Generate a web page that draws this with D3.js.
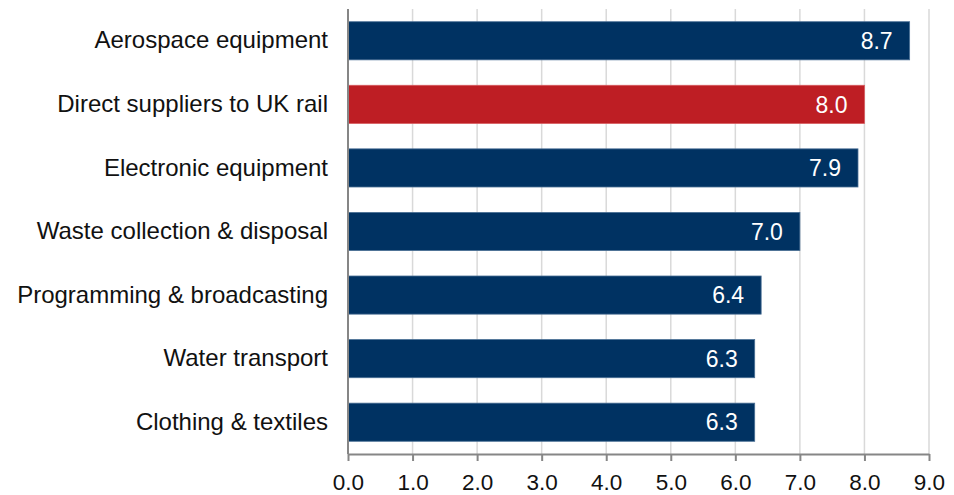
<!DOCTYPE html>
<html>
<head>
<meta charset="utf-8">
<script src="https://cdn.jsdelivr.net/npm/d3@7"></script>
<style>
  body { margin: 0; background: #fff; }
  svg { display: block; font-family: "Liberation Sans", Arial, sans-serif; }
</style>
</head>
<body>
<svg id="chart" width="954" height="495"></svg>
<script>
// Sectors and their values
const categories = [
  "Aerospace equipment",
  "Direct suppliers to UK rail",
  "Electronic equipment",
  "Waste collection & disposal",
  "Programming & broadcasting",
  "Water transport",
  "Clothing & textiles"
];
const values = [8.7, 8.0, 7.9, 7.0, 6.4, 6.3, 6.3];
const highlight = "Direct suppliers to UK rail";
const xTicks = [0, 1, 2, 3, 4, 5, 6, 7, 8, 9];

const svg = d3.select("#chart");
const margin = { top: 9, right: 25, bottom: 41, left: 348 };
const W = 954, H = 495;

const x = d3.scaleLinear().domain([0, 9]).range([margin.left, W - margin.right]);
const y = d3.scaleBand().domain(categories)
  .range([margin.top, H - margin.bottom])
  .paddingInner(0.4).paddingOuter(0.2);

// vertical gridlines
svg.append("g")
  .selectAll("line")
  .data(xTicks.filter(d => d > 0))
  .join("line")
  .attr("x1", d => x(d)).attr("x2", d => x(d))
  .attr("y1", margin.top).attr("y2", H - margin.bottom)
  .attr("stroke", "#d9d9d9").attr("stroke-width", 1.5);

// bars
const data = categories.map((c, i) => ({ c, v: values[i] }));
svg.append("g")
  .selectAll("rect")
  .data(data)
  .join("rect")
  .attr("x", x(0))
  .attr("y", d => y(d.c))
  .attr("width", d => x(d.v) - x(0))
  .attr("height", y.bandwidth())
  .attr("fill", d => d.c === highlight ? "#be1e24" : "#003262")
  .attr("stroke", d => d.c === highlight ? "#d65a5e" : "#4a6f95")
  .attr("stroke-width", 0.8);

// value labels inside bars
svg.append("g")
  .selectAll("text")
  .data(data)
  .join("text")
  .attr("x", d => x(d.v) - 17)
  .attr("y", d => y(d.c) + y.bandwidth() / 2)
  .attr("dy", "0.36em")
  .attr("text-anchor", "end")
  .attr("fill", "#fff")
  .attr("font-size", 23)
  .text(d => d3.format(".1f")(d.v));

// x axis
const xAxis = svg.append("g")
  .attr("transform", `translate(0,${H - margin.bottom})`)
  .call(d3.axisBottom(x).tickValues(xTicks).tickFormat(d3.format(".1f")).tickSize(7).tickSizeOuter(0));
xAxis.select(".domain").attr("stroke", "#868686").attr("stroke-width", 2);
xAxis.selectAll(".tick line").attr("stroke", "#868686").attr("stroke-width", 2);
xAxis.selectAll(".tick text")
  .attr("font-size", 22.5).attr("fill", "#111")
  .attr("font-family", "Liberation Sans, Arial, sans-serif")
  .attr("dy", "0.71em").attr("y", 20);

// y axis
const yAxis = svg.append("g")
  .attr("transform", `translate(${x(0)},0)`)
  .call(d3.axisLeft(y).tickSize(0).tickPadding(20));
yAxis.select(".domain").attr("stroke", "#868686").attr("stroke-width", 2)
  .attr("d", `M0,${margin.top}V${H - margin.bottom}`);
yAxis.selectAll(".tick text")
  .attr("font-size", 24).attr("fill", "#111")
  .attr("font-family", "Liberation Sans, Arial, sans-serif");
</script>
</body>
</html>
